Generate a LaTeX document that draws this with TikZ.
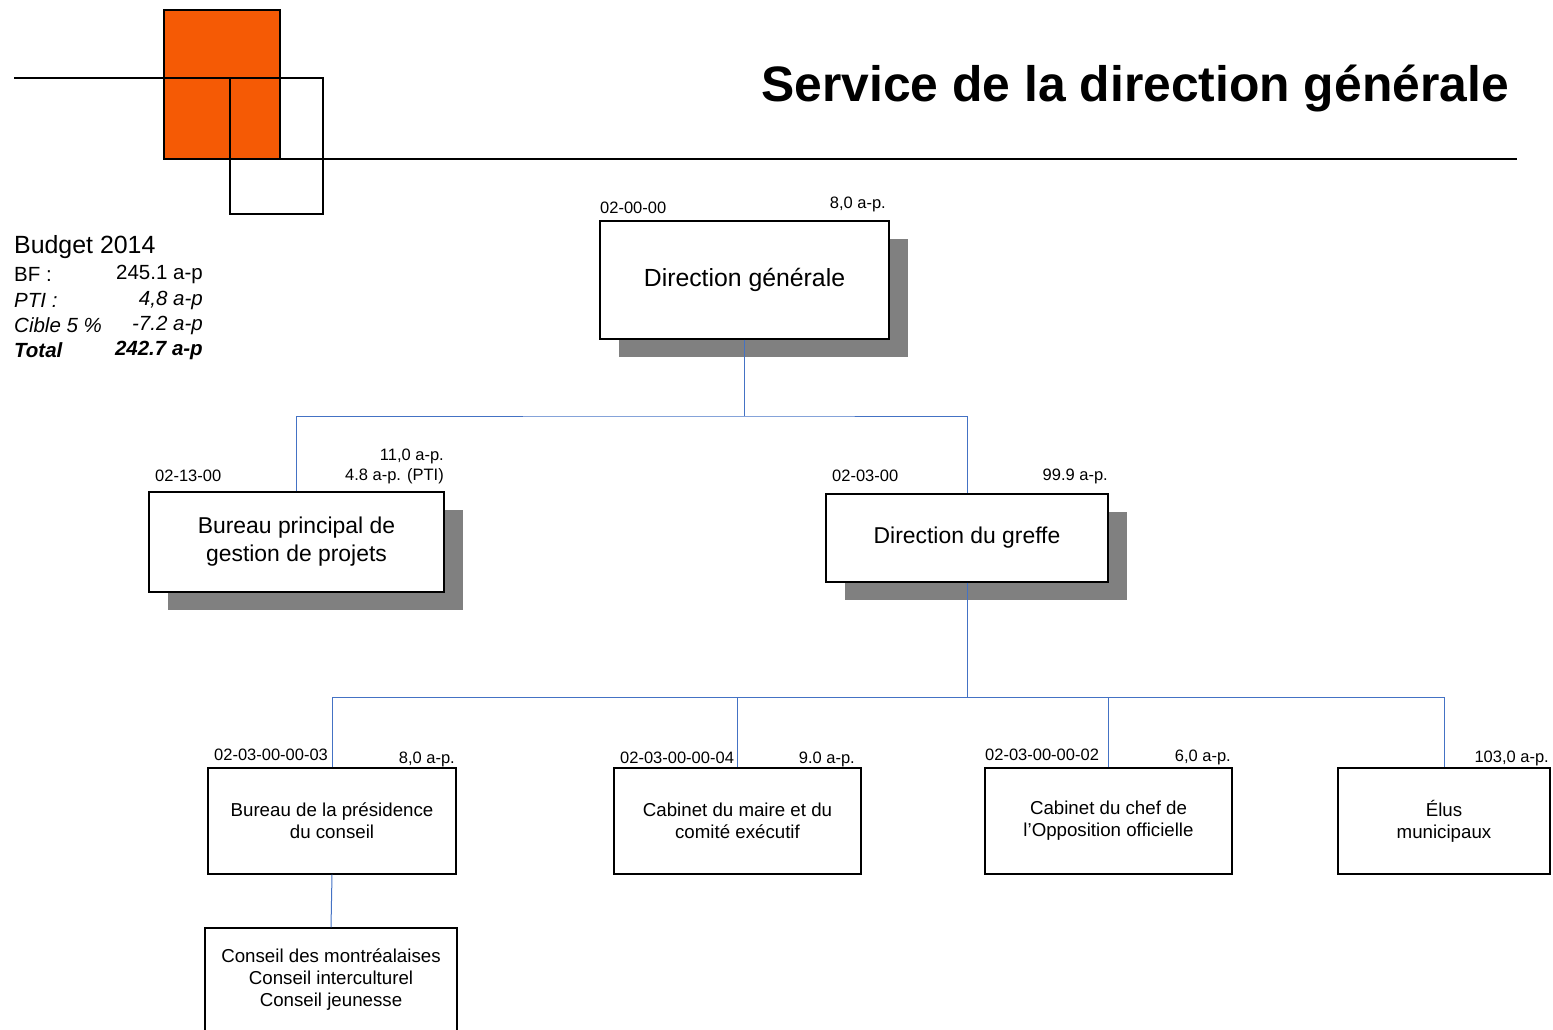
\documentclass[tikz,border=0pt]{standalone}
\usepackage{fontspec}
\setmainfont{Liberation Sans}
\usetikzlibrary{shadows}
\definecolor{logoorange}{RGB}{245,90,5}
\definecolor{linkblue}{RGB}{68,114,196}

\begin{document}
\begin{tikzpicture}[x=1pt,y=-1pt,
	unit/.style={draw,line width=1.2pt,fill=white,align=center,inner sep=0pt,font=\fontsize{22.9}{28}\selectfont},
	shaded/.style={drop shadow={shadow xshift=19pt,shadow yshift=-18pt,fill=black!50,opacity=1}},
	small/.style={draw,line width=1.2pt,fill=white,align=center,inner sep=0pt,minimum width=248pt,minimum height=106pt,font=\fontsize{18.7}{22}\selectfont},
	tag/.style={inner sep=0pt,font=\fontsize{16.5}{19}\selectfont},
	budget/.style={inner sep=0pt,font=\fontsize{20.5}{24}\selectfont},
	link/.style={linkblue,line width=1pt}]
	\useasboundingbox (0,0) rectangle (1553,1029);
	% logo and title
	\filldraw[fill=logoorange,line width=1.2pt] (164,10) rectangle (280,159);
	\draw[line width=1.2pt] (230,78) rectangle (323,214);
	\draw[line width=1.2pt] (14,78) -- (230,78);
	\draw[line width=1.2pt] (222,159) -- (1517,159);
	\node[inner sep=0pt,anchor=base east,font=\fontsize{49.8}{56}\selectfont\bfseries] (title) at (1509,101) {Service de la direction générale};
	% budget
	\node[inner sep=0pt,anchor=west,font=\fontsize{24.9}{28}\selectfont] (budget) at (14,247) {Budget 2014};
	\node[budget,anchor=west] (bf) at (14,274) {BF :};
	\node[budget,anchor=east] (bf-val) at (203,274) {245.1 a-p};
	\node[budget,anchor=west] (pti) at (14,300) {\itshape PTI :};
	\node[budget,anchor=east] (pti-val) at (203,300) {\itshape 4,8 a-p};
	\node[budget,anchor=west] (cible) at (14,325) {\itshape Cible 5 \%};
	\node[budget,anchor=east] (cible-val) at (203,325) {\itshape -7.2 a-p};
	\node[budget,anchor=west] (total) at (14,350) {\bfseries\itshape Total};
	\node[budget,anchor=east] (total-val) at (203,350) {\bfseries\itshape 242.7 a-p};
	% units
	\node[unit,shaded,minimum width=289pt,minimum height=118pt,font=\fontsize{24.8}{28}\selectfont] (dg) at (744.5,280) {Direction générale};
	\node[unit,shaded,minimum width=295pt,minimum height=100pt] (bp) at (296.5,542) {Bureau principal de\\gestion de projets};
	\node[unit,shaded,minimum width=282pt,minimum height=88pt] (dgr) at (967,538) {Direction du greffe};
	\node[small] (bpc) at (332,821) {Bureau de la présidence\\du conseil};
	\node[small,minimum width=247pt] (cm) at (737.5,821) {Cabinet du maire et du\\comité exécutif};
	\node[small,minimum width=247pt] (co) at (1108.5,821) {Cabinet du chef de\\l’Opposition officielle};
	\node[small,minimum width=212pt] (em) at (1444,821) {Élus\\municipaux};
	\node[small,minimum width=252pt,minimum height=104pt] (cons) at (331,980) {Conseil des montréalaises\\Conseil interculturel\\Conseil jeunesse};
	% codes and a-p
	\node[tag,anchor=west] (dg-code) at (600,208) {02-00-00};
	\node[tag,anchor=east] (dg-ap) at (886,204) {8,0 a-p.};
	\node[tag,anchor=west] (bp-code) at (155,476) {02-13-00};
	\node[tag,anchor=east] (bp-ap) at (444,456) {11,0 a-p.};
	\node[tag,anchor=east] (bp-pti) at (444,476) {4.8 a-p. (PTI)};
	\node[tag,anchor=west] (dgr-code) at (832,476) {02-03-00};
	\node[tag,anchor=east] (dgr-ap) at (1108,476) {99.9 a-p.};
	\node[tag,anchor=west] (bpc-code) at (214,755) {02-03-00-00-03};
	\node[tag,anchor=east] (bpc-ap) at (455,759) {8,0 a-p.};
	\node[tag,anchor=west] (cm-code) at (620,758) {02-03-00-00-04};
	\node[tag,anchor=east] (cm-ap) at (855,759) {9.0 a-p.};
	\node[tag,anchor=west] (co-code) at (985,755) {02-03-00-00-02};
	\node[tag,anchor=east] (co-ap) at (1231,757) {6,0 a-p.};
	\node[tag,anchor=east] (em-ap) at (1549,758) {103,0 a-p.};
	% connectors
	\coordinate (bus1) at (744.5,416);
	\coordinate (bus2) at (967,697);
	\draw[link] (dg.south) -- (bus1);
	\draw[link] (bp.north) |- (bus1) -| (dgr.north);
	\draw[link] (dgr.south) -- (bus2);
	\draw[link] (bpc.north) |- (bus2) -| (em.north);
	\draw[link] (cm.north) -- (cm.north |- bus2);
	\draw[link] (co.north) -- (co.north |- bus2);
	\draw[link] (bpc.south) -- (cons.north);
\end{tikzpicture}
\end{document}
